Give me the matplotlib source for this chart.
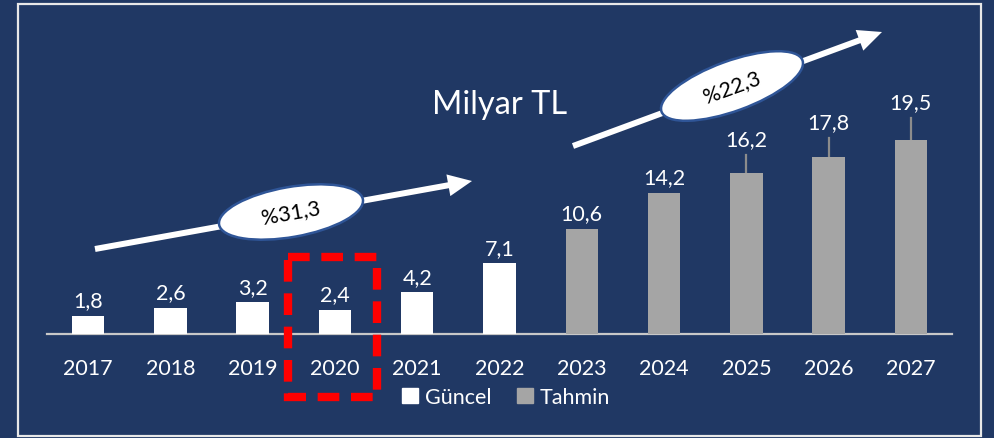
import matplotlib
matplotlib.use("Agg")
import matplotlib.pyplot as plt
from matplotlib.patches import Ellipse, Rectangle, FancyArrow, Patch

years = ["2017", "2018", "2019", "2020", "2021", "2022",
         "2023", "2024", "2025", "2026", "2027"]
values = [1.8, 2.6, 3.2, 2.4, 4.2, 7.1, 10.6, 14.2, 16.2, 17.8, 19.5]
is_forecast = [False] * 6 + [True] * 5
upper_err = [0, 0, 0, 0, 0, 0, 0, 0, 1.8, 1.9, 2.2]
labels = ["1,8", "2,6", "3,2", "2,4", "4,2", "7,1",
          "10,6", "14,2", "16,2", "17,8", "19,5"]
cagr_actual = "%31,3"
cagr_forecast = "%22,3"

NAVY = "#203864"
WHITE = "#ffffff"
GRAY = "#a5a5a5"
FONT = "Lato"
FS = 15.5

W, H = 994, 439
fig = plt.figure(figsize=(W / 100, H / 100), dpi=100, facecolor=NAVY)

# main bar axes, placed in pixel terms
x0, x1, y_base, y_top = 47, 952, 335, 35
ax = fig.add_axes([x0 / W, 1 - y_base / H, (x1 - x0) / W, (y_base - y_top) / H])
ax.set_facecolor("none")
px_per_unit = 9.95
ax.set_xlim(-0.5, len(years) - 0.5)
ax.set_ylim(0, (y_base - y_top) / px_per_unit)

xs = list(range(len(years)))
colors = [GRAY if f else WHITE for f in is_forecast]
ax.bar(xs, values, width=0.395, color=colors, zorder=3)

for x, v, e in zip(xs, values, upper_err):
    if e > 0:
        ax.plot([x, x], [v, v + e], color="#8c8c8c", lw=1.6, zorder=2)

for x, v, e, lab in zip(xs, values, upper_err, labels):
    ax.annotate(lab, (x, v + e), xytext=(0, 4), textcoords="offset points",
                ha="center", va="bottom", color=WHITE, fontsize=FS, family=FONT)

for s in ["top", "right", "left"]:
    ax.spines[s].set_visible(False)
ax.spines["bottom"].set_color("#c8c8c8")
ax.spines["bottom"].set_linewidth(1.6)
ax.set_yticks([])
ax.set_xticks(xs)
ax.set_xticklabels(years, color=WHITE, fontsize=FS, family=FONT)
ax.tick_params(axis="x", length=0, pad=17)

# overlay in pixel coordinates for annotations
ov = fig.add_axes([0, 0, 1, 1])
ov.set_xlim(0, W)
ov.set_ylim(H, 0)
ov.axis("off")
ov.set_facecolor("none")

# outer frame
ov.add_patch(Rectangle((18, 5), 963, 432, fill=False, ec="#e8e8e8", lw=1.6))

ov.text(432, 114, "Milyar TL", color=WHITE, fontsize=23.5, family=FONT,
        ha="left", va="baseline")

# growth arrows with CAGR ellipses
def growth(start, end, center, width, height, angle, text):
    dx, dy = end[0] - start[0], end[1] - start[1]
    ov.add_patch(FancyArrow(start[0], start[1], dx, dy, width=6,
                            head_width=22, head_length=24,
                            length_includes_head=True, color=WHITE, lw=0))
    ov.add_patch(Ellipse(center, width, height, angle=-angle,
                         fc=WHITE, ec="#2f5597", lw=1.8, zorder=4))
    ov.text(center[0], center[1], text, rotation=angle, color="black",
            fontsize=FS, family=FONT, ha="center", va="center",
            rotation_mode="anchor", zorder=5)

growth((95, 250), (472, 182), (291, 213), 146, 50, 10, cagr_actual)
growth((573, 147), (882, 33), (732, 87), 150, 50, 20, cagr_forecast)

# red dashed highlight around 2020
ov.add_patch(Rectangle((287.5, 258), 89, 139.5, fill=False, ec="#ff0000",
                       lw=6, linestyle=(0, (2.6, 1.4)), zorder=6))

# legend
handles = [Patch(color=WHITE, label="Güncel"), Patch(color=GRAY, label="Tahmin")]
fig.legend(handles=handles, loc="center", bbox_to_anchor=(506 / W, 1 - 398 / H),
           ncol=2, frameon=False, prop={"family": FONT, "size": FS},
           labelcolor=WHITE, handlelength=0.75, handleheight=0.75,
           handletextpad=0.3, columnspacing=1.2)

fig.savefig("out.png", dpi=100, facecolor=NAVY)
